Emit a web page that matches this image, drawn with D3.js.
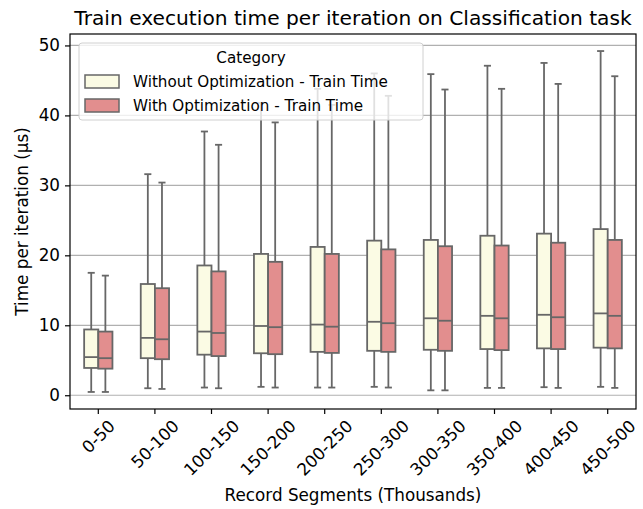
<!DOCTYPE html>
<html>
<head>
<meta charset="utf-8">
<script src="https://cdn.jsdelivr.net/npm/d3@7"></script>
<style>
  html, body { margin: 0; padding: 0; background: #fff; }
  svg { display: block; font-family: "DejaVu Sans", sans-serif; }
</style>
</head>
<body>
<svg id="chart" width="643" height="509"></svg>
<script>
// Record segments (thousands of records)
const categories = ["0-50", "50-100", "100-150", "150-200", "200-250",
                    "250-300", "300-350", "350-400", "400-450", "450-500"];

const seriesNames = ["Without Optimization - Train Time", "With Optimization - Train Time"];

// Box statistics per segment, time per iteration in µs
const withoutLow  = [0.47, 1.0, 1.1, 1.2, 1.1, 1.2, 0.7, 1.05, 1.15, 1.2];
const withoutQ1   = [3.9, 5.3, 5.8, 6.0, 6.2, 6.35, 6.5, 6.6, 6.7, 6.8];
const withoutMed  = [5.45, 8.2, 9.1, 9.9, 10.1, 10.5, 11.0, 11.35, 11.5, 11.7];
const withoutQ3   = [9.4, 15.9, 18.55, 20.2, 21.2, 22.1, 22.2, 22.8, 23.1, 23.75];
const withoutHigh = [17.5, 31.6, 37.7, 41.8, 43.8, 46.0, 45.9, 47.1, 47.5, 49.2];

const withLow  = [0.47, 0.9, 1.0, 1.1, 1.1, 1.1, 0.7, 1.05, 1.05, 1.05];
const withQ1   = [3.8, 5.15, 5.6, 5.87, 6.05, 6.2, 6.35, 6.45, 6.6, 6.7];
const withMed  = [5.3, 8.0, 8.9, 9.73, 9.8, 10.3, 10.65, 11.0, 11.15, 11.35];
const withQ3   = [9.1, 15.3, 17.7, 19.07, 20.2, 20.85, 21.3, 21.4, 21.8, 22.2];
const withHigh = [17.1, 30.4, 35.8, 39.0, 41.5, 42.8, 43.7, 43.8, 44.5, 45.6];

const yTicks = [0, 10, 20, 30, 40, 50];

const fills = ["#fbfbe4", "#e28e8e"];
const edge = "#676767";
const lw = 1.8;

const series = [
  { name: seriesNames[0], low: withoutLow, q1: withoutQ1, med: withoutMed, q3: withoutQ3, high: withoutHigh },
  { name: seriesNames[1], low: withLow, q1: withQ1, med: withMed, q3: withQ3, high: withHigh }
];

const boxes = [];
series.forEach((s, si) => {
  categories.forEach((c, ci) => {
    boxes.push({ cat: c, si, low: s.low[ci], q1: s.q1[ci], med: s.med[ci], q3: s.q3[ci], high: s.high[ci] });
  });
});

const svg = d3.select("#chart");
const plot = { left: 70, right: 636, top: 34, bottom: 409 };

const x = d3.scaleBand().domain(categories).range([plot.left, plot.right]).padding(0);
const hue = d3.scaleBand().domain([0, 1]).range([-0.25, 0.25]); // fraction of band, total box width 0.5

const allVals = boxes.flatMap(b => [b.low, b.high]);
const vmin = d3.min(allVals), vmax = d3.max(allVals);
const pad = (vmax - vmin) * 0.05;
const y = d3.scaleLinear().domain([vmin - pad, vmax + pad]).range([plot.bottom, plot.top]);

// horizontal grid
svg.append("g")
  .selectAll("line").data(yTicks).join("line")
  .attr("x1", plot.left).attr("x2", plot.right)
  .attr("y1", d => y(d)).attr("y2", d => y(d))
  .attr("stroke", "#b0b0b0").attr("stroke-width", 1.2);

const bw = x.bandwidth();
const boxW = bw * hue.bandwidth();
const cx = d => x(d.cat) + bw / 2 + (hue(d.si) + hue.bandwidth() / 2) * bw;

const g = svg.append("g").selectAll("g").data(boxes).join("g");

// whiskers
g.append("line")
  .attr("x1", cx).attr("x2", cx)
  .attr("y1", d => y(d.q3)).attr("y2", d => y(d.high))
  .attr("stroke", edge).attr("stroke-width", lw);
g.append("line")
  .attr("x1", cx).attr("x2", cx)
  .attr("y1", d => y(d.q1)).attr("y2", d => y(d.low))
  .attr("stroke", edge).attr("stroke-width", lw);
// caps
["high", "low"].forEach(k => {
  g.append("line")
    .attr("x1", d => cx(d) - boxW / 4).attr("x2", d => cx(d) + boxW / 4)
    .attr("y1", d => y(d[k])).attr("y2", d => y(d[k]))
    .attr("stroke", edge).attr("stroke-width", lw);
});
// boxes
g.append("rect")
  .attr("x", d => cx(d) - boxW / 2).attr("width", boxW)
  .attr("y", d => y(d.q3)).attr("height", d => y(d.q1) - y(d.q3))
  .attr("fill", d => fills[d.si]).attr("stroke", edge).attr("stroke-width", lw);
// medians
g.append("line")
  .attr("x1", d => cx(d) - boxW / 2).attr("x2", d => cx(d) + boxW / 2)
  .attr("y1", d => y(d.med)).attr("y2", d => y(d.med))
  .attr("stroke", edge).attr("stroke-width", lw);

// frame
svg.append("rect")
  .attr("x", plot.left).attr("y", plot.top)
  .attr("width", plot.right - plot.left).attr("height", plot.bottom - plot.top)
  .attr("fill", "none").attr("stroke", "#000").attr("stroke-width", 1.2);

const tickFont = 16.8;

// y axis
const yAxis = svg.append("g")
  .attr("transform", `translate(${plot.left},0)`)
  .call(d3.axisLeft(y).tickValues(yTicks).tickSize(5).tickPadding(5).tickFormat(d3.format("d")));
yAxis.select(".domain").remove();
yAxis.selectAll(".tick line").attr("stroke", "#000").attr("stroke-width", 1.2);
yAxis.selectAll(".tick text").attr("font-size", tickFont).attr("fill", "#000")
  .attr("font-family", "DejaVu Sans");

// x axis
const xAxis = svg.append("g")
  .attr("transform", `translate(0,${plot.bottom})`)
  .call(d3.axisBottom(x).tickSize(5).tickPadding(4));
xAxis.select(".domain").remove();
xAxis.selectAll(".tick line").attr("stroke", "#000").attr("stroke-width", 1.2);
xAxis.selectAll(".tick text")
  .attr("font-size", tickFont).attr("fill", "#000").attr("font-family", "DejaVu Sans")
  .attr("dy", null)
  .attr("text-anchor", "middle")
  .attr("dominant-baseline", "central")
  .each(function () {
    const w = this.getComputedTextLength();
    const h = 14;
    const half = (w + h) * Math.SQRT1_2 / 2;
    d3.select(this).attr("y", 0)
      .attr("transform", `translate(0,${9 + half}) rotate(-45)`);
  });

// axis titles
svg.append("text")
  .attr("x", (plot.left + plot.right) / 2).attr("y", 501)
  .attr("text-anchor", "middle").attr("font-size", tickFont)
  .text("Record Segments (Thousands)");
svg.append("text")
  .attr("transform", `translate(28,${(plot.top + plot.bottom) / 2}) rotate(-90)`)
  .attr("text-anchor", "middle").attr("font-size", tickFont)
  .text("Time per iteration (µs)");
svg.append("text")
  .attr("x", (plot.left + plot.right) / 2).attr("y", 25)
  .attr("text-anchor", "middle").attr("font-size", 20.2)
  .text("Train execution time per iteration on Classification task");

// legend
const lg = svg.append("g").attr("transform", "translate(79,43)");
lg.append("rect").attr("width", 344).attr("height", 77).attr("rx", 3)
  .attr("fill", "#fff").attr("fill-opacity", 0.8)
  .attr("stroke", "#d0d0d0").attr("stroke-width", 1);
lg.append("text").attr("x", 172).attr("y", 20).attr("text-anchor", "middle")
  .attr("font-size", 15.2).text("Category");
const items = lg.selectAll("g.item").data(seriesNames).join("g")
  .attr("class", "item")
  .attr("transform", (d, i) => `translate(0,${32 + i * 24})`);
items.append("rect").attr("x", 6).attr("y", 0).attr("width", 34).attr("height", 13)
  .attr("fill", (d, i) => fills[i]).attr("stroke", edge).attr("stroke-width", 1.5);
items.append("text").attr("x", 54).attr("y", 12).attr("font-size", 15.2).text(d => d);
</script>
</body>
</html>
